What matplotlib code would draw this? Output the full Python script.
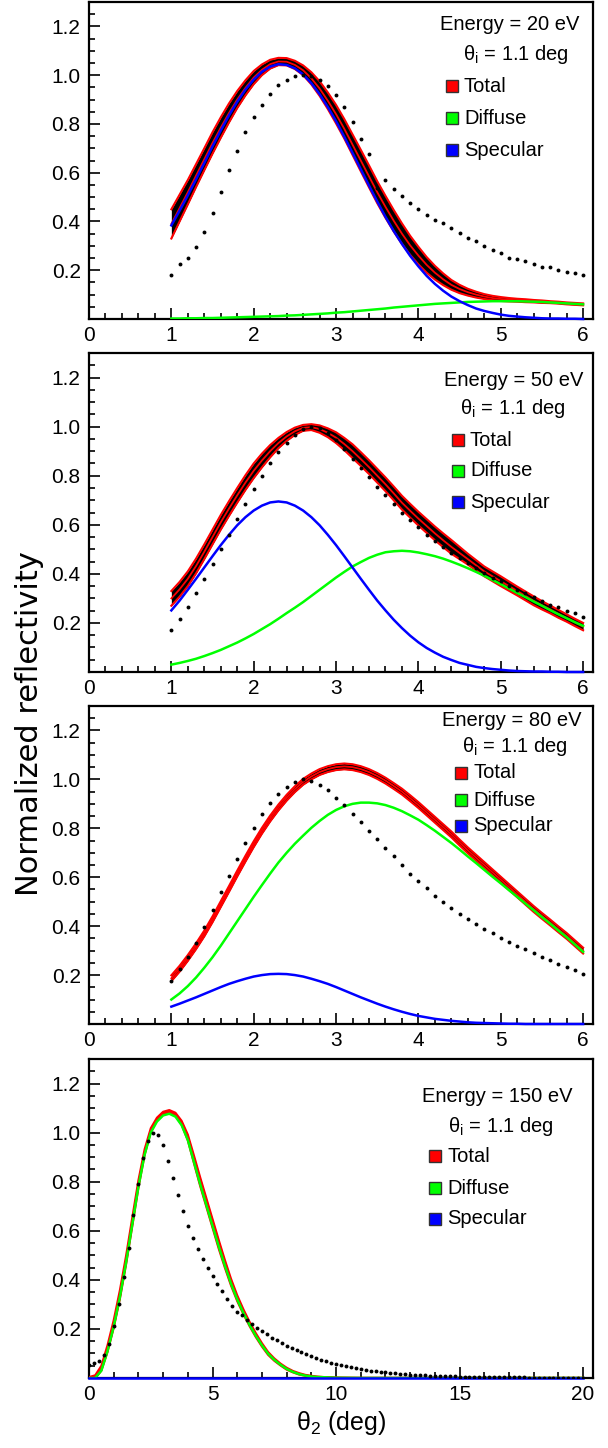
import numpy as np
import matplotlib
matplotlib.use("Agg")
import matplotlib.pyplot as plt
from matplotlib.patches import Rectangle
from matplotlib.ticker import MultipleLocator

plt.rcParams["font.family"] = ["Liberation Sans", "DejaVu Sans"]
plt.rcParams["mathtext.fontset"] = "custom"
plt.rcParams["mathtext.rm"] = "Liberation Sans"
plt.rcParams["mathtext.it"] = "Liberation Sans:italic"

# ── data ──────────────────────────────────────────────────────
energies = [20, 50, 80, 150]
theta_i = 1.1

# panels 1-3: model curves and measurement both every 0.1 deg
x_curve = np.round(np.arange(1.0, 6.001, 0.1), 2)
x_meas = np.round(np.arange(1.0, 6.001, 0.1), 2)

total_20 = [0.390, 0.455, 0.520, 0.588, 0.655, 0.722, 0.785, 0.845, 0.900, 0.948,
            0.990, 1.022, 1.045, 1.056, 1.055, 1.042, 1.020, 0.987, 0.945, 0.895,
            0.840, 0.780, 0.715, 0.650, 0.585, 0.520, 0.460, 0.403, 0.350, 0.302,
            0.260, 0.222, 0.190, 0.163, 0.140, 0.123, 0.110, 0.100, 0.092, 0.086,
            0.082, 0.079, 0.077, 0.075, 0.073, 0.071, 0.069, 0.067, 0.064, 0.062,
            0.060]
band_20 = [0.060, 0.055, 0.050, 0.047, 0.045, 0.044, 0.042, 0.039, 0.035, 0.031,
           0.027, 0.022, 0.018, 0.015, 0.015, 0.017, 0.020, 0.025, 0.030, 0.034,
           0.038, 0.040, 0.042, 0.044, 0.045, 0.045, 0.045, 0.044, 0.042, 0.039,
           0.036, 0.032, 0.028, 0.024, 0.020, 0.017, 0.014, 0.012, 0.010, 0.009,
           0.008, 0.007, 0.006, 0.006, 0.005, 0.005, 0.004, 0.004, 0.004, 0.004,
           0.004]
diffuse_20 = [0.002, 0.002, 0.003, 0.003, 0.004, 0.004, 0.005, 0.006, 0.007, 0.008,
              0.009, 0.010, 0.011, 0.012, 0.014, 0.015, 0.017, 0.019, 0.021, 0.023,
              0.026, 0.028, 0.031, 0.034, 0.037, 0.040, 0.043, 0.047, 0.050, 0.053,
              0.056, 0.059, 0.062, 0.064, 0.066, 0.068, 0.070, 0.071, 0.072, 0.073,
              0.073, 0.073, 0.073, 0.072, 0.071, 0.070, 0.068, 0.066, 0.064, 0.062,
              0.060]
specular_20 = [0.384, 0.444, 0.507, 0.573, 0.640, 0.708, 0.773, 0.835, 0.891, 0.941,
               0.982, 1.014, 1.035, 1.045, 1.042, 1.028, 1.003, 0.967, 0.922, 0.869,
               0.811, 0.747, 0.681, 0.614, 0.547, 0.482, 0.419, 0.361, 0.308, 0.259,
               0.216, 0.177, 0.144, 0.116, 0.092, 0.073, 0.057, 0.043, 0.033, 0.025,
               0.018, 0.013, 0.010, 0.007, 0.005, 0.003, 0.002, 0.002, 0.001, 0.001,
               0.000]
meas_20 = [0.182, 0.224, 0.251, 0.295, 0.355, 0.436, 0.520, 0.609, 0.689, 0.765,
           0.828, 0.878, 0.923, 0.958, 0.982, 0.995, 1.000, 0.996, 0.982, 0.954,
           0.918, 0.869, 0.806, 0.740, 0.675, 0.538, 0.568, 0.533, 0.505, 0.477,
           0.450, 0.428, 0.408, 0.393, 0.372, 0.352, 0.333, 0.320, 0.300, 0.284,
           0.270, 0.250, 0.247, 0.236, 0.227, 0.213, 0.212, 0.202, 0.193, 0.189,
           0.179]

total_50 = [0.300, 0.337, 0.380, 0.432, 0.490, 0.550, 0.610, 0.666, 0.720, 0.772,
            0.820, 0.862, 0.900, 0.933, 0.960, 0.981, 0.995, 0.998, 0.990, 0.975,
            0.955, 0.929, 0.900, 0.868, 0.835, 0.800, 0.765, 0.728, 0.690, 0.657,
            0.625, 0.595, 0.565, 0.537, 0.510, 0.485, 0.460, 0.435, 0.410, 0.390,
            0.370, 0.350, 0.330, 0.310, 0.290, 0.272, 0.255, 0.237, 0.220, 0.202,
            0.185]
band_50 = [0.030, 0.030, 0.030, 0.030, 0.030, 0.030, 0.030, 0.030, 0.030, 0.030,
           0.030, 0.028, 0.025, 0.021, 0.018, 0.015, 0.012, 0.012, 0.015, 0.018,
           0.022, 0.025, 0.028, 0.028, 0.028, 0.028, 0.028, 0.028, 0.028, 0.028,
           0.028, 0.028, 0.028, 0.028, 0.028, 0.025, 0.022, 0.021, 0.020, 0.020,
           0.020, 0.019, 0.018, 0.018, 0.018, 0.017, 0.016, 0.016, 0.015, 0.015,
           0.015]
diffuse_50 = [0.030, 0.037, 0.045, 0.054, 0.065, 0.077, 0.090, 0.105, 0.120, 0.137,
              0.155, 0.175, 0.195, 0.217, 0.240, 0.262, 0.285, 0.310, 0.335, 0.360,
              0.385, 0.408, 0.430, 0.448, 0.465, 0.478, 0.488, 0.492, 0.494, 0.492,
              0.487, 0.480, 0.472, 0.462, 0.450, 0.437, 0.423, 0.408, 0.392, 0.375,
              0.358, 0.340, 0.322, 0.305, 0.287, 0.270, 0.252, 0.235, 0.219, 0.203,
              0.188]
specular_50 = [0.251, 0.291, 0.335, 0.380, 0.426, 0.472, 0.517, 0.559, 0.598, 0.631,
               0.658, 0.678, 0.691, 0.695, 0.691, 0.678, 0.658, 0.631, 0.598, 0.559,
               0.517, 0.472, 0.426, 0.380, 0.335, 0.291, 0.251, 0.213, 0.179, 0.148,
               0.121, 0.098, 0.079, 0.062, 0.049, 0.037, 0.029, 0.021, 0.016, 0.012,
               0.009, 0.006, 0.004, 0.003, 0.002, 0.002, 0.001, 0.001, 0.000, 0.000,
               0.000]
meas_50 = [0.170, 0.215, 0.265, 0.320, 0.380, 0.440, 0.500, 0.560, 0.625, 0.685,
           0.745, 0.800, 0.850, 0.895, 0.935, 0.965, 0.990, 1.000, 0.995, 0.975,
           0.945, 0.910, 0.870, 0.830, 0.795, 0.755, 0.720, 0.685, 0.650, 0.620,
           0.590, 0.560, 0.535, 0.510, 0.485, 0.465, 0.445, 0.425, 0.405, 0.385,
           0.370, 0.350, 0.335, 0.320, 0.305, 0.290, 0.275, 0.265, 0.250, 0.240,
           0.225]

total_80 = [0.187, 0.226, 0.270, 0.318, 0.370, 0.428, 0.490, 0.552, 0.615, 0.676,
            0.735, 0.790, 0.840, 0.885, 0.925, 0.960, 0.990, 1.012, 1.030, 1.042,
            1.050, 1.053, 1.050, 1.042, 1.030, 1.014, 0.995, 0.973, 0.950, 0.923,
            0.895, 0.865, 0.835, 0.805, 0.775, 0.742, 0.710, 0.680, 0.650, 0.620,
            0.590, 0.560, 0.530, 0.500, 0.470, 0.442, 0.415, 0.387, 0.360, 0.330,
            0.300]
band_80 = [0.012] * 51
diffuse_80 = [0.100, 0.125, 0.155, 0.190, 0.230, 0.273, 0.320, 0.370, 0.420, 0.470,
              0.520, 0.568, 0.615, 0.660, 0.700, 0.737, 0.770, 0.802, 0.830, 0.855,
              0.875, 0.890, 0.900, 0.905, 0.905, 0.902, 0.895, 0.884, 0.870, 0.853,
              0.835, 0.813, 0.790, 0.765, 0.740, 0.713, 0.685, 0.658, 0.630, 0.602,
              0.575, 0.547, 0.520, 0.492, 0.465, 0.437, 0.410, 0.382, 0.355, 0.325,
              0.295]
specular_80 = [0.071, 0.083, 0.096, 0.109, 0.123, 0.137, 0.151, 0.164, 0.175, 0.185,
               0.194, 0.200, 0.204, 0.205, 0.204, 0.200, 0.194, 0.185, 0.175, 0.164,
               0.151, 0.137, 0.123, 0.109, 0.096, 0.083, 0.071, 0.060, 0.050, 0.041,
               0.033, 0.027, 0.021, 0.017, 0.013, 0.010, 0.007, 0.005, 0.004, 0.003,
               0.002, 0.001, 0.001, 0.000, 0.000, 0.000, 0.000, 0.000, 0.000, 0.000,
               0.000]
meas_80 = [0.176, 0.226, 0.275, 0.332, 0.398, 0.466, 0.538, 0.606, 0.675, 0.739,
           0.801, 0.859, 0.902, 0.940, 0.968, 0.988, 1.000, 0.995, 0.978, 0.955,
           0.925, 0.895, 0.860, 0.825, 0.790, 0.755, 0.720, 0.685, 0.650, 0.615,
           0.585, 0.555, 0.525, 0.500, 0.475, 0.450, 0.430, 0.410, 0.390, 0.370,
           0.350, 0.335, 0.320, 0.305, 0.290, 0.275, 0.260, 0.245, 0.235, 0.220,
           0.205]

# panel 4 (150 eV): wider angular range
x_curve_150 = np.concatenate([np.arange(0.0, 10.001, 0.25), np.arange(11.0, 20.001, 1.0)])
x_meas_150 = np.round(np.arange(0.0, 20.001, 0.2), 2)

total_150 = [0.000, 0.005, 0.040, 0.120, 0.220, 0.340, 0.480, 0.635, 0.790, 0.920,
             1.010, 1.055, 1.080, 1.087, 1.075, 1.040, 0.980, 0.890, 0.800, 0.715,
             0.630, 0.545, 0.465, 0.390, 0.325, 0.270, 0.220, 0.175, 0.135, 0.100,
             0.075, 0.055, 0.038, 0.026, 0.017, 0.011, 0.007, 0.004, 0.003, 0.002,
             0.001, 0.000, 0.000, 0.000, 0.000, 0.000, 0.000, 0.000, 0.000, 0.000,
             0.000]
band_150 = [0.004, 0.006, 0.010, 0.014, 0.016, 0.018, 0.018, 0.018, 0.016, 0.012,
            0.008, 0.006, 0.005, 0.005, 0.006, 0.008, 0.012, 0.016, 0.018, 0.018,
            0.018, 0.018, 0.016, 0.014, 0.012, 0.010, 0.009, 0.008, 0.007, 0.006,
            0.005, 0.004, 0.004, 0.003, 0.003, 0.002, 0.002, 0.002, 0.001, 0.001,
            0.001, 0.001, 0.001, 0.001, 0.001, 0.001, 0.001, 0.001, 0.001, 0.001,
            0.001]
diffuse_150 = [0.000, 0.000, 0.030, 0.110, 0.210, 0.330, 0.470, 0.625, 0.780, 0.910,
               1.000, 1.045, 1.070, 1.077, 1.065, 1.030, 0.970, 0.880, 0.790, 0.705,
               0.620, 0.537, 0.458, 0.384, 0.320, 0.265, 0.216, 0.172, 0.133, 0.099,
               0.074, 0.054, 0.037, 0.025, 0.016, 0.010, 0.006, 0.004, 0.003, 0.002,
               0.001, 0.000, 0.000, 0.000, 0.000, 0.000, 0.000, 0.000, 0.000, 0.000,
               0.000]
specular_150 = [0.0] * 51
meas_150 = [0.053, 0.062, 0.070, 0.092, 0.140, 0.210, 0.300, 0.410, 0.530, 0.665,
            0.790, 0.895, 0.965, 1.000, 0.990, 0.950, 0.885, 0.815, 0.745, 0.680,
            0.620, 0.570, 0.525, 0.485, 0.450, 0.415, 0.385, 0.355, 0.322, 0.295,
            0.270, 0.255, 0.238, 0.220, 0.205, 0.190, 0.178, 0.165, 0.153, 0.142,
            0.132, 0.122, 0.113, 0.104, 0.096, 0.088, 0.081, 0.075, 0.069, 0.063,
            0.058, 0.053, 0.048, 0.044, 0.040, 0.036, 0.033, 0.030, 0.027, 0.025,
            0.023, 0.021, 0.019, 0.017, 0.015, 0.014, 0.013, 0.012, 0.011, 0.010,
            0.009, 0.008, 0.0075, 0.007, 0.0065, 0.006, 0.0055, 0.005, 0.0045, 0.004,
            0.004, 0.0035, 0.0035, 0.003, 0.003, 0.003, 0.0025, 0.0025, 0.0025, 0.002,
            0.002, 0.002, 0.002, 0.002, 0.0015, 0.0015, 0.0015, 0.0015, 0.001, 0.001,
            0.001]

legend_labels = ["Total", "Diffuse", "Specular"]
RED, GREEN, BLUE = "#ff0000", "#00ff00", "#0000ff"

panels = [
    (x_curve, total_20, band_20, diffuse_20, specular_20, x_meas, meas_20, 6),
    (x_curve, total_50, band_50, diffuse_50, specular_50, x_meas, meas_50, 6),
    (x_curve, total_80, band_80, diffuse_80, specular_80, x_meas, meas_80, 6),
    (x_curve_150, total_150, band_150, diffuse_150, specular_150, x_meas_150, meas_150, 20),
]

# ── layout (pixels of the 608x1448 canvas) ────────────────────
W, H = 608, 1448
frame_x = (89, 593)
frame_y = [(2, 319), (353, 672), (706, 1024), (1059, 1378)]
# legend: (energy right edge, energy y, theta right edge, theta y, box left, rows y)
legend_pos = [
    (579, 25, 569, 54, 446, (86, 118, 150)),
    (583, 380, 566, 409, 452, (440, 471, 502)),
    (582, 720, 568, 746, 455, (773, 800, 826)),
    (572, 1097, 554, 1126, 429, (1156, 1188, 1219)),
]


def fx(x):
    return x / W


def fy(y):
    return 1 - y / H


fig = plt.figure(figsize=(W / 100, H / 100), dpi=100)

for i, (xc, tot, bw, dif, spe, xm, meas, xmax) in enumerate(panels):
    top, bot = frame_y[i]
    ax = fig.add_axes([fx(frame_x[0]), fy(bot), fx(frame_x[1] - frame_x[0]), (bot - top) / H])
    tot = np.array(tot)
    bw = np.array(bw)
    lo, hi = tot - bw, tot + bw

    ax.fill_between(xc, lo, hi, color="black", lw=0, zorder=2)
    ax.plot(xc, lo, color=RED, lw=1.5, zorder=3)
    ax.plot(xc, hi, color=RED, lw=1.5, zorder=3)
    ax.plot(xc, tot, color=RED, lw=1.3, zorder=3)
    ax.plot(xc, dif, color=GREEN, lw=1.8, zorder=4)
    ax.plot(xc, spe, color=BLUE, lw=1.8, zorder=5, clip_on=False)
    ax.plot(xm, meas, "o", color="black", ms=2.8, mew=0, zorder=6)

    ax.set_xlim(0, xmax * 1.02)
    ax.set_ylim(0, 1.3)
    ax.set_yticks([0.2, 0.4, 0.6, 0.8, 1.0, 1.2])
    ax.yaxis.set_minor_locator(MultipleLocator(0.05))
    if xmax == 6:
        ax.set_xticks(range(0, 7))
        ax.xaxis.set_minor_locator(MultipleLocator(0.2))
    else:
        ax.set_xticks(range(0, 21, 5))
        ax.xaxis.set_minor_locator(MultipleLocator(1))
    ax.tick_params(which="both", direction="in", top=False, right=False,
                   labelsize=15, width=1.2)
    ax.tick_params(which="major", length=8)
    ax.tick_params(which="minor", length=4)
    ax.tick_params(axis="x", pad=5)
    ax.tick_params(axis="y", pad=6)
    for s in ax.spines.values():
        s.set_linewidth(1.6)

    # legend block
    ex, ey, tx, ty, bx, rows = legend_pos[i]
    fig.text(fx(ex), fy(ey), f"Energy = {energies[i]} eV", ha="right", va="center", fontsize=14.5)
    fig.text(fx(tx), fy(ty), rf"$\mathrm{{θ_{{i}}}}$ = {theta_i} deg", ha="right", va="center",
             fontsize=14.5)
    for ry, lab, col in zip(rows, legend_labels, [RED, GREEN, BLUE]):
        fig.patches.append(Rectangle((fx(bx), fy(ry + 6)), fx(12), 12 / H, transform=fig.transFigure,
                                     facecolor=col, edgecolor="#333333", lw=1))
        fig.text(fx(bx + 18), fy(ry), lab, ha="left", va="center", fontsize=14.5)

fig.text(fx(30), fy(724), "Normalized reflectivity", rotation=90, ha="center", va="center",
         fontsize=22, family="DejaVu Sans")
fig.text(fx(341), fy(1423), r"$\mathrm{θ_{2}}$ (deg)", ha="center", va="center", fontsize=18)

fig.savefig("out.png", dpi=100)
